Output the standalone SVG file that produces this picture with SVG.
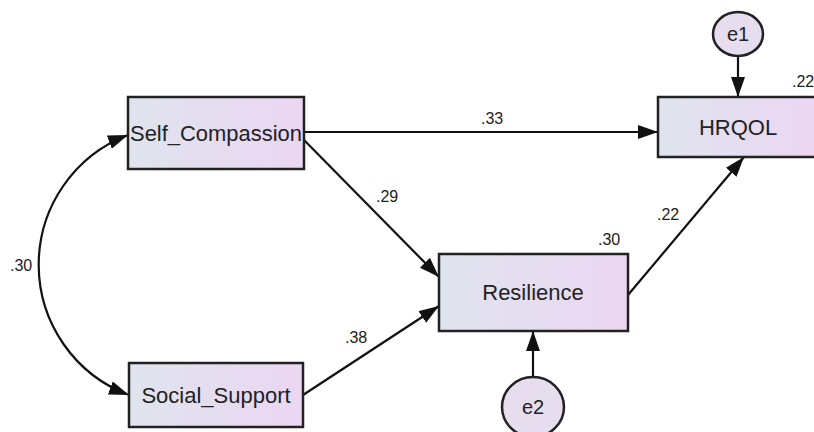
<svg xmlns="http://www.w3.org/2000/svg" width="814" height="432" viewBox="0 0 814 432">
<defs>
<linearGradient id="boxfill" x1="0" y1="0" x2="1" y2="0">
<stop offset="0" stop-color="#dfe4ee"/>
<stop offset="1" stop-color="#ecd6f3"/>
</linearGradient>
<marker id="arr" markerUnits="userSpaceOnUse" markerWidth="20" markerHeight="14" refX="20" refY="7" orient="auto-start-reverse" viewBox="0 0 20 14">
<path d="M0,0 L20,7 L0,14 z" fill="#111"/>
</marker>
<style>
.box{fill:url(#boxfill);stroke:#222;stroke-width:2.5}
.ell{fill:#e6ddef;stroke:#222;stroke-width:2.5}
.lbl{font-family:"Liberation Sans",Arial,sans-serif;font-size:22px;fill:#222;text-anchor:middle}
.num{font-family:"Liberation Sans",Arial,sans-serif;font-size:16px;fill:#222}
.con{fill:none;stroke:#111;stroke-width:2.2;marker-end:url(#arr)}
</style>
</defs>
<rect width="814" height="432" fill="#fff"/>
<g id="connectors">
<path class="con" d="M304,132 L658,132"/>
<path class="con" d="M304,140 L439,277"/>
<path class="con" d="M303,395 L439,306"/>
<path class="con" d="M628,295 L744,157"/>
<path class="con" d="M738,56 L738,97"/>
<path class="con" d="M533,377 L533,331"/>
<path class="con" style="marker-start:url(#arr)" d="M128,135 A139,139 0 0 0 129,395"/>
</g>
<g id="Self_Compassion">
<rect class="box" x="128" y="97" width="176" height="72"/>
<text class="lbl" x="216" y="141" textLength="172" lengthAdjust="spacingAndGlyphs">Self_Compassion</text>
</g>
<g id="Social_Support">
<rect class="box" x="129" y="363" width="174" height="64"/>
<text class="lbl" x="216" y="403">Social_Support</text>
</g>
<g id="HRQOL">
<rect class="box" x="658" y="97" width="162" height="60"/>
<text class="lbl" x="738" y="135">HRQOL</text>
</g>
<g id="Resilience">
<rect class="box" x="439" y="254" width="189" height="77"/>
<text class="lbl" x="533" y="300">Resilience</text>
</g>
<g id="e1">
<ellipse class="ell" cx="738" cy="34" rx="25" ry="22"/>
<text class="lbl" x="738" y="41" style="font-size:20px">e1</text>
</g>
<g id="e2">
<ellipse class="ell" cx="533" cy="407" rx="31" ry="30"/>
<text class="lbl" x="533" y="414" style="font-size:20px">e2</text>
</g>
<g id="labels">
<text class="num" x="481" y="124">.33</text>
<text class="num" x="376" y="202">.29</text>
<text class="num" x="345" y="343">.38</text>
<text class="num" x="657" y="220">.22</text>
<text class="num" x="598" y="245">.30</text>
<text class="num" x="792" y="87">.22</text>
<text class="num" x="10" y="271">.30</text>
</g>
</svg>
